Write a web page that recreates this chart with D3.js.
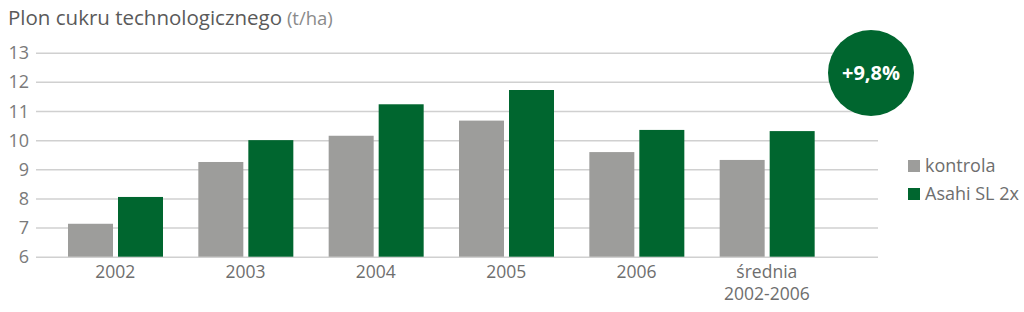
<!DOCTYPE html>
<html>
<head>
<meta charset="utf-8">
<script src="https://cdn.jsdelivr.net/npm/d3@7/dist/d3.min.js"></script>
<style>
  body { margin: 0; background: #fff; }
  svg { display: block; font-family: 'Open Sans', sans-serif; }
</style>
</head>
<body>
<svg id="chart" width="1024" height="312"></svg>
<script>
// data
const categories = ['2002', '2003', '2004', '2005', '2006', 'średnia\n2002-2006'];
const kontrola = [7.13, 9.25, 10.15, 10.67, 9.59, 9.32];
const asahi = [8.05, 10.0, 11.23, 11.72, 10.35, 10.31];
const series = ['kontrola', 'Asahi SL 2x'];
const yTicks = [6, 7, 8, 9, 10, 11, 12, 13];
const badge = '+9,8%';

const colors = { kontrola: '#9d9d9b', 'Asahi SL 2x': '#00662f' };

const svg = d3.select('#chart');

// scales
const x = d3.scaleBand().domain(categories).range([50, 832]);
const xSub = d3.scaleOrdinal().domain(series).range([18, 68]);
const barW = 45;
const y = d3.scaleLinear().domain([6, 13]).range([256.7, 52.7]);

// title
svg.append('text')
  .attr('x', 8).attr('y', 25)
  .attr('font-size', 20.5).attr('fill', '#5a5a5a')
  .text('Plon cukru technologicznego')
  .append('tspan')
  .attr('fill', '#8a8a8a').attr('font-size', 18.5)
  .text(' (t/ha)');

// grid + y axis labels
const yAxis = svg.append('g').attr('transform', 'translate(36,0)')
  .call(d3.axisLeft(y).tickValues(yTicks).tickFormat(d3.format('d')).tickSize(-842).tickPadding(7));
yAxis.select('.domain').remove();
yAxis.selectAll('.tick line').attr('stroke', '#d0d0d0').attr('stroke-width', 1.5);
yAxis.selectAll('.tick text')
  .attr('font-size', 18).attr('fill', '#7a7a7a')
  .attr('font-family', "'Open Sans', sans-serif")
  .attr('dy', '0.34em');

// bars
const rows = categories.map((c, i) => ({ cat: c, vals: [
  { s: 'kontrola', v: kontrola[i] },
  { s: 'Asahi SL 2x', v: asahi[i] }
] }));

const groups = svg.append('g').selectAll('g.cat')
  .data(rows).enter().append('g').attr('class', 'cat')
  .attr('transform', d => `translate(${x(d.cat)},0)`);

groups.selectAll('rect')
  .data(d => d.vals).enter().append('rect')
  .attr('x', d => xSub(d.s))
  .attr('width', barW)
  .attr('y', d => y(d.v))
  .attr('height', d => y(6) - y(d.v))
  .attr('fill', d => colors[d.s]);

// x labels (multi-line, one text per line)
groups.selectAll('text.xl')
  .data(d => d.cat.split('\n')).enter().append('text')
  .attr('class', 'xl')
  .attr('text-anchor', 'middle')
  .attr('font-size', 17.5).attr('fill', '#6e6e6e')
  .attr('x', x.bandwidth() / 2)
  .attr('y', (d, i) => 278 + i * 22)
  .text(d => d);

// badge
svg.append('circle').attr('cx', 871).attr('cy', 73).attr('r', 43).attr('fill', '#00662f');
svg.append('text')
  .attr('x', 871).attr('y', 80)
  .attr('text-anchor', 'middle')
  .attr('font-size', 20).attr('font-weight', 700).attr('fill', '#fff')
  .text(badge);

// legend
const legend = svg.append('g').attr('transform', 'translate(908,160)');
const li = legend.selectAll('g').data(series).enter().append('g')
  .attr('transform', (d, i) => `translate(0,${i * 28})`);
li.append('rect').attr('width', 12).attr('height', 12).attr('fill', d => colors[d]);
li.append('text')
  .attr('x', 17).attr('y', 12)
  .attr('font-size', 18).attr('fill', '#6e6e6e')
  .text(d => d);
</script>
</body>
</html>
